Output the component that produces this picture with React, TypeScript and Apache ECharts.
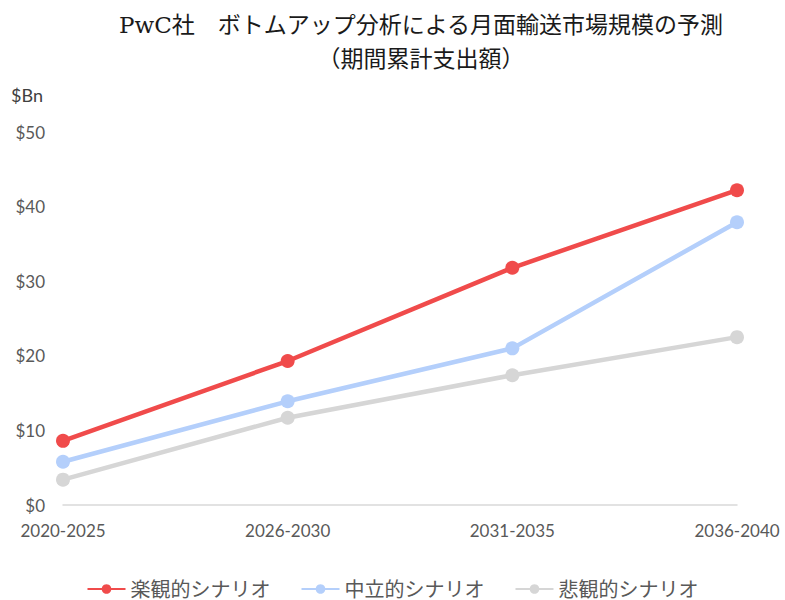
import React, { useEffect, useRef } from "react";
import * as echarts from "echarts";

const categories = ["2020-2025", "2026-2030", "2031-2035", "2036-2040"];
const optimistic = [8.6, 19.3, 31.8, 42.2];
const neutral = [5.8, 13.9, 21.0, 37.9];
const pessimistic = [3.4, 11.7, 17.4, 22.5];
const seriesNames = ["楽観的シナリオ", "中立的シナリオ", "悲観的シナリオ"];
const colors = ["#F04B4B", "#B4CFFB", "#D6D6D6"];

export default function App() {
  const ref = useRef<HTMLDivElement>(null);
  useEffect(() => {
    document.body.style.margin = "0";
    if (!ref.current) return;
    const chart = echarts.init(ref.current, null, { renderer: "svg" });
    const latin = "Lato, 'Noto Sans CJK JP', sans-serif";
    const mk = (name: string, data: number[], color: string) => ({
      name,
      type: "line",
      data,
      symbol: "circle",
      symbolSize: 14,
      lineStyle: { width: 4.5, color },
      itemStyle: { color },
      emphasis: { disabled: true },
    });
    chart.setOption({
      animation: false,
      backgroundColor: "#ffffff",
      title: {
        text: "PwC社　ボトムアップ分析による月面輸送市場規模の予測\n（期間累計支出額）",
        left: 416,
        textAlign: "center",
        top: 3,
        textStyle: {
          fontFamily: "'DejaVu Serif', 'Noto Sans CJK JP', serif",
          fontSize: 23,
          fontWeight: "normal",
          color: "#1a1a1a",
          lineHeight: 34,
        },
      },
      legend: {
        top: 574,
        left: "center",
        itemWidth: 38,
        itemHeight: 12,
        itemGap: 30,
        textStyle: { fontFamily: latin, fontSize: 20, color: "#595959" },
        data: seriesNames,
      },
      grid: { left: 63, right: 48, top: 132, bottom: 95, containLabel: false },
      xAxis: {
        type: "category",
        data: categories,
        boundaryGap: false,
        axisLine: { lineStyle: { color: "#D9D9D9", width: 1.5 } },
        axisTick: { show: false },
        axisLabel: {
          fontFamily: latin,
          fontSize: 17,
          color: "#595959",
          margin: 17,
          alignMinLabel: "center",
          alignMaxLabel: "center",
        },
      },
      yAxis: {
        type: "value",
        min: 0,
        max: 50,
        interval: 10,
        name: "$Bn",
        nameLocation: "end",
        nameGap: 28,
        nameTextStyle: { fontFamily: latin, fontSize: 18, color: "#404040", align: "right", padding: [0, 20, 0, 0] },
        axisLine: { show: false },
        axisTick: { show: false },
        splitLine: { show: false },
        axisLabel: {
          fontFamily: latin,
          fontSize: 17,
          color: "#595959",
          margin: 18,
          formatter: (v: number) => "$" + v,
        },
      },
      series: [
        mk(seriesNames[0], optimistic, colors[0]),
        mk(seriesNames[1], neutral, colors[1]),
        mk(seriesNames[2], pessimistic, colors[2]),
      ],
    });
    return () => chart.dispose();
  }, []);
  return <div ref={ref} style={{ width: 785, height: 600 }} />;
}
